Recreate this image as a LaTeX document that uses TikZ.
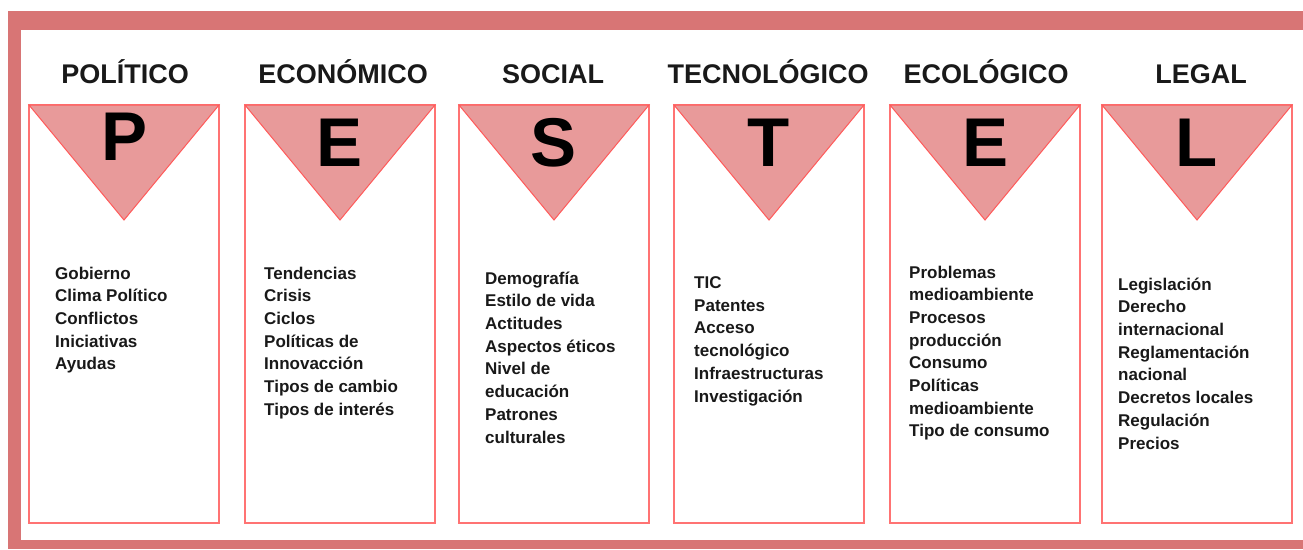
\documentclass[tikz,border=0pt]{standalone}
\usepackage{fontspec}
\setmainfont{Liberation Sans}
\definecolor{bandred}{RGB}{216,117,117}
\definecolor{trifill}{RGB}{232,154,154}
\definecolor{edgered}{RGB}{255,90,90}
\definecolor{ink}{RGB}{25,25,25}
\begin{document}
\begin{tikzpicture}[x=1pt,y=-1pt,
    box/.style={draw=edgered!85,line width=1.4pt,fill=white},
    tri/.style={draw=edgered,line width=1pt,fill=trifill},
    title/.style={anchor=base,inner sep=0,text=ink,font=\fontsize{27}{32}\selectfont\bfseries},
    letter/.style={anchor=base,inner sep=0,text=black,font=\fontsize{69}{80}\selectfont\bfseries},
    items/.style={anchor=north west,inner sep=0,align=left,text=ink,font=\fontsize{17}{22.7}\selectfont\bfseries}]
    \useasboundingbox (0,0) rectangle (1303,549);
    \fill [bandred] (8,11) rectangle (1303,549);
    \fill [white] (21,30) rectangle (1303,540);

    % P
    \draw [box] (29,105) rectangle (219,523);
    \draw [tri] (29,105) -- (219,105) -- (124,220) -- cycle;
    \node [title] (polT) at (125,83) {POLÍTICO};
    \node [letter] (polL) at (125,160) {P};
    \node [items] (polI) at (55,266.5) {Gobierno\\Clima Político\\Conflictos\\Iniciativas\\Ayudas};

    % E
    \draw [box] (245,105) rectangle (435,523);
    \draw [tri] (245,105) -- (435,105) -- (340,220) -- cycle;
    \node [title] (ecoT) at (343,83) {ECONÓMICO};
    \node [letter] (ecoL) at (340,166) {E};
    \node [items] (ecoI) at (264,266.5) {Tendencias\\Crisis\\Ciclos\\Políticas de\\Innovacción\\Tipos de cambio\\Tipos de interés};

    % S
    \draw [box] (459,105) rectangle (649,523);
    \draw [tri] (459,105) -- (649,105) -- (554,220) -- cycle;
    \node [title] (socT) at (553,83) {SOCIAL};
    \node [letter] (socL) at (554,166) {S};
    \node [items] (socI) at (485,271.5) {Demografía\\Estilo de vida\\Actitudes\\Aspectos éticos\\Nivel de\\educación\\Patrones\\culturales};

    % T
    \draw [box] (674,105) rectangle (864,523);
    \draw [tri] (674,105) -- (864,105) -- (769,220) -- cycle;
    \node [title] (tecT) at (768,83) {TECNOLÓGICO};
    \node [letter] (tecL) at (769,166) {T};
    \node [items] (tecI) at (694,276.5) {TIC\\Patentes\\Acceso\\tecnológico\\Infraestructuras\\Investigación};

    % E
    \draw [box] (890,105) rectangle (1080,523);
    \draw [tri] (890,105) -- (1080,105) -- (985,220) -- cycle;
    \node [title] (ecolT) at (986,83) {ECOLÓGICO};
    \node [letter] (ecolL) at (985,166) {E};
    \node [items] (ecolI) at (909,265.5) {Problemas\\medioambiente\\Procesos\\producción\\Consumo\\Políticas\\medioambiente\\Tipo de consumo};

    % L
    \draw [box] (1102,105) rectangle (1292,523);
    \draw [tri] (1102,105) -- (1292,105) -- (1197,220) -- cycle;
    \node [title] (legT) at (1201,83) {LEGAL};
    \node [letter] (legL) at (1197,166) {L};
    \node [items] (legI) at (1118,277.5) {Legislación\\Derecho\\internacional\\Reglamentación\\nacional\\Decretos locales\\Regulación\\Precios};

\end{tikzpicture}
\end{document}
